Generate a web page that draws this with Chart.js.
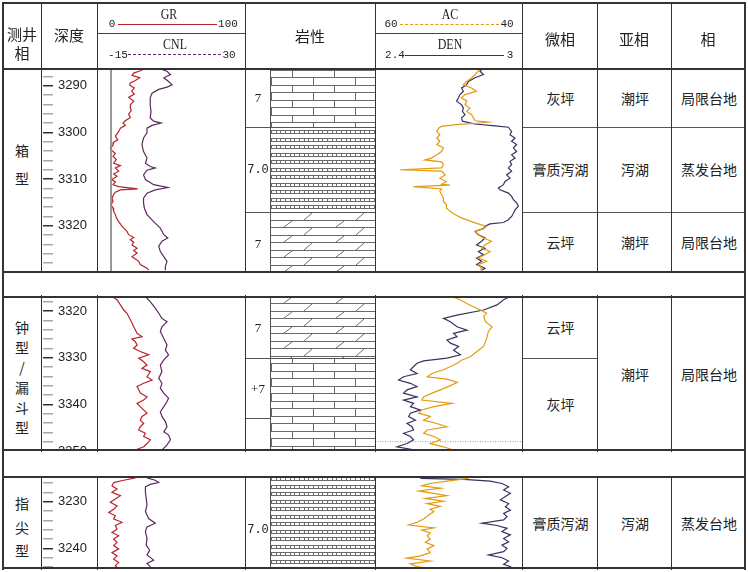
<!DOCTYPE html>
<html>
<head>
<meta charset="utf-8">
<title>测井相</title>
<script src="https://cdn.jsdelivr.net/npm/chart.js@4.4.1/dist/chart.umd.min.js"></script>
<style>
  body { margin: 0; background: #fff; }
  #sheet { position: relative; width: 748px; height: 572px; overflow: hidden; background: #fff;
           font-family: "Noto Sans CJK SC", sans-serif; color: #222; }
  #sheet canvas { position: absolute; }
  .ln { position: absolute; background: #333; z-index: 5; }
  .tx { position: absolute; transform: translate(-50%, -50%); white-space: nowrap; line-height: 1; z-index: 6; font-size: 14px; }
  .key { position: absolute; z-index: 6; height: 0; }
</style>
</head>
<body>
<div id="sheet"></div>
<script>
// ---- depth window of each row (m) ----
const sec1Range = [3286.64, 3329.89];
const sec2Range = [3316.8, 3350.0];
const sec3Range = [3224.71, 3244.41];

// ---- curves: [depth, value] ----
// row 1 (box shape)
const s1GR = [[3286.2,29.4],[3286.8,24.4],[3287.3,18.9],[3287.8,17.5],[3288.3,23.9],[3288.9,20.3],[3289.4,16.1],[3289.9,15.6],[3290.5,19.4],[3291.2,17.2],
  [3291.8,19.4],[3292.5,14.7],[3293.3,18.9],[3294.1,16.1],[3294.8,16.1],[3295.3,16.9],[3296.1,14.7],[3296.8,16.1],[3297.5,11.9],[3298.0,10.0],
  [3298.5,11.9],[3299.1,7.8],[3299.8,6.4],[3300.3,5.0],[3300.8,3.6],[3301.6,5.6],[3302.1,2.2],[3302.8,1.7],[3303.3,-0.6],[3303.9,0.8],
  [3304.5,3.6],[3305.1,1.7],[3305.8,4.4],[3306.6,2.2],[3307.1,7.8],[3307.6,3.6],[3308.3,6.4],[3308.9,2.2],[3309.4,5.0],[3310.1,0.8],
  [3310.6,3.6],[3311.2,1.7],[3311.6,6.4],[3312.1,22.2],[3312.3,7.8],[3312.8,3.6],[3313.3,2.2],[3314.1,0.8],[3314.8,1.7],[3315.5,0.0],
  [3316.2,1.7],[3316.9,2.2],[3317.6,3.6],[3318.3,4.4],[3319.1,6.4],[3319.8,8.3],[3320.5,10.6],[3321.2,13.3],[3321.9,14.7],[3322.5,18.9],
  [3323.0,16.1],[3323.5,18.9],[3324.1,17.5],[3324.8,21.7],[3325.3,18.9],[3325.8,21.7],[3326.6,17.5],[3327.1,20.3],[3327.6,23.1],[3328.3,24.4],
  [3329.1,30.0],[3329.5,31.4]];
const s1CNL = [[3286.2,2.3],[3286.9,6.0],[3287.6,7.3],[3288.3,4.8],[3289.1,6.6],[3289.8,7.9],[3290.3,6.0],[3290.8,2.9],[3291.6,0.4],[3292.6,-0.3],
  [3294.1,-0.3],[3295.5,0.0],[3296.9,-0.3],[3297.6,1.0],[3298.0,3.8],[3298.5,0.4],[3299.1,-1.5],[3300.1,-1.5],[3301.2,-2.8],[3302.6,-3.4],
  [3304.1,-2.8],[3305.5,-1.5],[3306.6,-2.1],[3307.3,-0.3],[3307.6,1.6],[3308.1,-1.5],[3309.1,-2.8],[3310.1,-2.1],[3311.2,1.0],[3311.8,6.3],
  [3312.3,1.6],[3313.0,-1.5],[3314.1,-2.8],[3315.1,-2.8],[3316.2,-2.5],[3317.6,-1.5],[3319.1,1.0],[3320.5,3.5],[3321.9,4.8],[3322.6,6.3],
  [3323.3,4.1],[3324.4,2.9],[3325.5,3.5],[3326.6,4.8],[3327.6,6.0],[3328.7,5.4],[3329.5,5.4]];
const s1AC = [[3286.2,44.7],[3286.9,45.3],[3287.6,45.8],[3288.3,46.4],[3289.1,47.2],[3289.8,47.8],[3290.5,46.4],[3291.2,45.6],[3291.9,47.5],[3292.6,48.1],
  [3293.3,47.2],[3294.1,47.5],[3294.8,46.7],[3295.5,47.2],[3296.2,46.4],[3296.9,46.1],[3297.5,45.8],[3297.8,43.6],[3298.1,45.8],[3298.3,48.6],
  [3298.7,51.4],[3299.1,51.9],[3299.8,52.2],[3300.5,51.7],[3301.2,52.2],[3301.9,51.7],[3302.6,52.2],[3303.3,51.1],[3304.1,51.4],[3304.8,52.2],
  [3305.5,53.1],[3305.9,54.2],[3306.3,51.4],[3306.9,51.1],[3307.6,51.4],[3308.0,58.3],[3308.3,51.4],[3309.1,50.8],[3309.8,51.7],[3310.5,50.6],
  [3311.1,51.4],[3311.3,50.0],[3311.6,56.1],[3312.1,51.4],[3312.6,51.7],[3313.3,51.4],[3314.1,51.1],[3314.8,51.1],[3315.5,50.6],[3316.2,50.6],
  [3316.9,50.0],[3317.6,49.2],[3318.3,48.1],[3319.1,46.4],[3319.6,45.3],[3320.1,43.9],[3320.6,44.4],[3321.2,45.8],[3321.9,45.3],[3322.6,44.4],
  [3323.3,43.1],[3324.1,44.2],[3324.8,44.7],[3325.5,43.3],[3326.2,44.2],[3326.9,45.3],[3327.6,43.9],[3328.3,45.3],[3329.1,44.7],[3329.5,45.0]];
const s1DEN = [[3286.2,2.867],[3286.9,2.850],[3287.6,2.867],[3288.3,2.825],[3289.1,2.792],[3289.8,2.783],[3290.5,2.758],[3291.2,2.767],[3291.9,2.750],[3292.6,2.742],
  [3293.3,2.733],[3294.1,2.758],[3294.8,2.767],[3295.5,2.762],[3296.2,2.775],[3296.9,2.758],[3297.6,2.762],[3298.2,2.825],[3298.6,2.925],[3298.9,2.992],
  [3299.8,3.008],[3300.5,3.000],[3301.2,3.025],[3301.9,3.008],[3302.6,3.033],[3303.3,3.017],[3304.1,3.033],[3304.8,3.008],[3305.5,3.025],[3306.2,3.000],
  [3306.9,3.008],[3307.6,2.992],[3308.3,3.008],[3309.1,2.983],[3309.8,3.000],[3310.5,2.975],[3311.2,2.967],[3311.9,2.942],[3312.3,2.950],[3313.0,2.992],
  [3313.7,3.008],[3314.4,3.017],[3315.1,3.033],[3315.8,3.042],[3316.6,3.025],[3317.3,3.017],[3318.0,3.008],[3318.7,2.992],[3319.3,2.967],[3319.6,2.900],
  [3320.1,2.875],[3320.6,2.867],[3321.2,2.825],[3321.9,2.842],[3322.6,2.875],[3323.3,2.858],[3324.1,2.833],[3324.8,2.875],[3325.5,2.842],[3326.2,2.867],
  [3326.9,2.833],[3327.6,2.858],[3328.3,2.833],[3329.1,2.875],[3329.5,2.858]];

// row 2 (bell / funnel shape)
const s2GR = [[3316.9,0.8],[3317.6,5.0],[3318.7,7.8],[3319.8,10.6],[3320.5,13.3],[3321.2,14.7],[3321.9,16.1],[3322.6,17.5],[3323.4,18.9],[3324.1,20.3],
  [3324.8,21.7],[3325.5,25.8],[3326.0,17.5],[3326.6,20.3],[3327.3,21.7],[3328.0,18.9],[3328.7,24.4],[3329.4,31.4],[3330.1,23.1],[3330.9,27.2],
  [3331.6,30.0],[3332.3,25.8],[3333.0,32.8],[3334.1,30.0],[3334.8,34.2],[3335.5,27.2],[3336.2,21.7],[3336.9,23.1],[3337.6,24.4],[3338.4,30.0],
  [3339.1,27.2],[3339.8,21.7],[3340.5,24.4],[3341.2,27.2],[3341.9,30.0],[3342.6,25.8],[3343.4,24.4],[3344.1,27.2],[3344.8,24.4],[3345.5,23.1],
  [3346.2,28.6],[3346.9,27.2],[3347.6,32.8],[3348.4,30.0],[3349.1,27.2],[3349.8,20.3]];
const s2CNL = [[3316.9,-2.1],[3318.0,-0.3],[3319.4,1.6],[3320.5,2.9],[3321.6,4.1],[3322.3,6.0],[3323.4,4.1],[3324.4,3.5],[3325.9,4.8],[3327.3,6.0],
  [3328.4,5.4],[3329.4,6.6],[3330.5,4.8],[3331.6,3.5],[3333.0,4.1],[3334.4,2.9],[3335.5,4.1],[3336.6,3.5],[3337.6,4.8],[3338.7,6.6],
  [3339.4,6.0],[3340.5,4.8],[3341.6,3.5],[3342.6,4.1],[3343.7,5.4],[3344.8,6.0],[3345.9,4.8],[3346.6,6.6],[3347.6,7.3],[3348.7,6.0],[3349.8,4.1]];
const s2AC = [[3316.9,49.7],[3317.6,48.3],[3318.4,47.2],[3319.1,46.1],[3319.8,44.9],[3320.5,43.9],[3321.2,44.4],[3322.3,44.1],[3323.4,43.0],[3324.4,43.6],
  [3325.5,43.8],[3326.6,44.1],[3327.6,44.4],[3328.7,45.5],[3329.8,46.6],[3330.5,48.0],[3331.2,48.8],[3331.9,49.9],[3332.6,51.1],[3333.4,53.0],
  [3334.1,53.8],[3334.6,50.5],[3335.3,48.8],[3336.0,49.9],[3336.9,51.6],[3337.6,53.0],[3338.4,54.4],[3339.1,54.7],[3339.8,49.7],[3340.5,52.7],
  [3341.2,54.7],[3341.9,55.2],[3342.6,53.3],[3343.4,54.4],[3344.1,52.2],[3344.8,50.5],[3345.5,53.8],[3346.2,54.4],[3346.9,52.7],[3347.6,51.6],
  [3348.4,53.3],[3349.1,51.1],[3349.8,49.4]];
const s2DEN = [[3316.9,3.002],[3317.6,2.968],[3318.7,2.935],[3319.8,2.868],[3320.9,2.735],[3321.6,2.668],[3322.3,2.702],[3323.4,2.735],[3324.1,2.785],[3324.8,2.718],
  [3325.5,2.735],[3326.2,2.685],[3326.9,2.702],[3327.6,2.743],[3328.4,2.718],[3329.4,2.752],[3330.1,2.685],[3330.7,2.568],[3331.2,2.535],[3331.9,2.518],
  [3332.6,2.502],[3333.4,2.535],[3334.1,2.468],[3334.8,2.443],[3335.5,2.502],[3336.2,2.535],[3336.9,2.485],[3337.6,2.468],[3338.4,2.535],[3339.1,2.468],
  [3339.8,2.518],[3340.5,2.502],[3341.2,2.552],[3341.9,2.502],[3342.6,2.493],[3343.4,2.527],[3344.1,2.485],[3344.8,2.510],[3345.5,2.518],[3346.2,2.468],
  [3346.9,2.502],[3347.6,2.518],[3348.4,2.485],[3349.1,2.435],[3349.8,2.527]];

// row 3 (finger shape)
const s3GR = [[3224.9,20.3],[3225.4,10.6],[3225.9,2.2],[3226.6,0.8],[3227.3,5.0],[3228.0,0.8],[3228.7,7.8],[3229.4,3.6],[3230.1,-0.6],[3230.9,5.0],
  [3231.6,2.2],[3232.3,-1.9],[3233.0,3.6],[3233.7,2.2],[3234.4,9.2],[3235.1,3.6],[3235.9,5.0],[3236.6,0.8],[3237.3,6.4],[3238.0,2.2],
  [3238.7,5.0],[3239.4,2.2],[3240.1,6.4],[3240.9,0.8],[3241.6,5.0],[3242.3,2.2],[3243.0,6.4],[3243.7,3.6],[3244.4,6.4]];
const s3CNL = [[3224.9,-1.5],[3225.4,1.6],[3225.9,2.9],[3226.3,-0.3],[3226.8,-2.1],[3227.9,-2.1],[3229.3,-1.8],[3230.7,-1.5],[3232.1,-2.1],[3233.6,-0.9],
  [3234.6,1.6],[3235.4,-1.5],[3236.4,-2.1],[3237.9,-1.5],[3239.3,-1.8],[3240.4,-0.5],[3241.4,-1.5],[3242.5,1.0],[3243.2,-1.5],[3243.9,-0.3],[3244.4,-0.5]];
const s3AC = [[3225.0,46.9],[3225.6,50.5],[3226.1,53.3],[3226.6,54.7],[3227.1,51.6],[3227.7,55.2],[3228.2,52.7],[3228.7,50.5],[3229.3,54.1],[3229.9,51.1],
  [3230.4,53.8],[3231.0,51.6],[3231.6,53.3],[3232.1,52.7],[3232.9,53.6],[3233.7,54.4],[3234.4,55.5],[3235.0,56.9],[3235.6,52.7],[3236.1,54.7],
  [3236.7,53.3],[3237.3,53.8],[3238.0,53.3],[3238.7,54.1],[3239.4,52.7],[3240.1,53.8],[3240.9,53.3],[3241.6,54.9],[3242.1,57.2],[3242.7,53.3],
  [3243.3,56.6],[3243.9,55.5],[3244.4,53.3]];
const s3DEN = [[3225.0,2.552],[3225.2,2.768],[3225.6,2.902],[3226.1,2.960],[3226.8,2.993],[3227.5,2.968],[3228.2,3.002],[3228.9,2.977],[3229.6,2.952],[3230.4,2.993],
  [3231.1,2.977],[3231.8,3.002],[3232.5,2.968],[3233.2,2.985],[3233.9,2.968],[3234.6,2.860],[3235.1,2.935],[3235.7,2.985],[3236.4,2.960],[3237.1,3.002],
  [3237.9,2.968],[3238.6,2.993],[3239.3,2.960],[3240.0,2.985],[3240.7,2.968],[3241.4,2.893],[3242.0,2.960],[3242.7,2.993],[3243.4,2.968],[3243.9,3.002],[3244.4,2.985]];

// ---- lithology ----
const sec1LithTop = [3286.64, 3298.8, 3317.0];
const sec1LithBase = [3298.8, 3317.0, 3329.89];
const sec1Rock = ['limestone', 'gypsum', 'dolomite'];
const sec1Note = ['7', '7.0', '7'];
const sec1NoteDepth = [3292.4, 3308.0, 3323.7];
const sec1NoteBounds = [3298.8, 3317.0];

const sec2LithTop = [3316.8, 3330.0];
const sec2LithBase = [3330.0, 3350.0];
const sec2Rock = ['dolomite', 'limestone'];
const sec2Note = ['7', '+7'];
const sec2NoteDepth = [3323.4, 3336.5];
const sec2NoteBounds = [3330.0, 3343.0];

const sec3LithTop = [3224.71];
const sec3LithBase = [3244.41];
const sec3Rock = ['gypsum'];
const sec3Note = ['7.0'];
const sec3NoteDepth = [3236.1];
const sec3NoteBounds = [];

// ---- facies ----
const sec1Bounds = [3298.8, 3317.0];
const sec1Micro = ['灰坪', '膏质泻湖', '云坪'];
const sec1Sub = ['潮坪', '泻湖', '潮坪'];
const sec1Facies = ['局限台地', '蒸发台地', '局限台地'];
const sec2MicroBounds = [3330.0];
const sec2Micro = ['云坪', '灰坪'];
const sec2Sub = ['潮坪'];
const sec2Facies = ['局限台地'];
const sec3Micro = ['膏质泻湖'];
const sec3Sub = ['泻湖'];
const sec3Facies = ['蒸发台地'];

// marker line inside the AC/DEN track of row 2
const sec2Marker = 3348.0;

// ---------------------------------------------------------------
const sheet = document.getElementById('sheet');
const COL = { gr: '#b8232b', cnl: '#5b2a5e', ac: '#e39a12', den: '#34345e' };

function rule(x, y, w, h, color) {
  const d = document.createElement('div');
  d.className = 'ln';
  d.style.left = x + 'px'; d.style.top = y + 'px';
  d.style.width = w + 'px'; d.style.height = h + 'px';
  if (color) d.style.background = color;
  sheet.appendChild(d);
}
function label(str, x, y, css) {
  const d = document.createElement('div');
  d.className = 'tx';
  d.textContent = str;
  d.style.left = x + 'px'; d.style.top = y + 'px';
  if (css) d.style.cssText += css;
  sheet.appendChild(d);
}
function key(x1, x2, y, border) {
  const d = document.createElement('div');
  d.className = 'key';
  d.style.left = x1 + 'px'; d.style.top = y + 'px';
  d.style.width = (x2 - x1) + 'px';
  d.style.borderTop = border;
  sheet.appendChild(d);
}
function canvasAt(x, y, w, h) {
  const c = document.createElement('canvas');
  c.width = w; c.height = h;
  c.style.left = x + 'px'; c.style.top = y + 'px';
  c.style.width = w + 'px'; c.style.height = h + 'px';
  sheet.appendChild(c);
  return c;
}

// lithology fill patterns
function tile(w, h, draw) {
  const c = document.createElement('canvas');
  c.width = w; c.height = h;
  const g = c.getContext('2d');
  g.fillStyle = '#fff'; g.fillRect(0, 0, w, h);
  g.fillStyle = '#6a6a6a'; g.strokeStyle = '#6a6a6a'; g.lineWidth = 1;
  draw(g);
  return g.createPattern(c, 'repeat');
}
const patterns = {
  limestone: tile(42, 15, g => {
    g.fillRect(0, 0, 42, 1); g.fillRect(0, 7, 42, 1);
    g.fillRect(21, 1, 1, 6); g.fillRect(0, 8, 1, 7);
  }),
  gypsum: tile(14, 15, g => {
    [0, 8].forEach(y => {
      g.fillRect(0, y, 14, 1); g.fillRect(0, y + 3, 14, 1);
      [0, 5, 9].forEach(x => g.fillRect(x, y, 1, 4));
    });
  }),
  dolomite: tile(52, 15, g => {
    g.fillRect(0, 0, 52, 1); g.fillRect(0, 7, 52, 1);
    g.beginPath();
    g.moveTo(13, 7); g.lineTo(21, 1);
    g.moveTo(33, 15); g.lineTo(41, 8);
    g.stroke();
  })
};

const baseOpts = (range, scales) => ({
  responsive: false, animation: false, events: [],
  layout: { padding: 0 },
  plugins: { legend: { display: false }, tooltip: { enabled: false } },
  scales: Object.assign({
    x: { display: false },
    y: { type: 'linear', display: false, reverse: true, min: range[0], max: range[1] }
  }, scales)
});
const pts = arr => arr.map(p => ({ x: p[1], y: p[0] }));
function curve(arr, axis, color, extra) {
  return Object.assign({ data: pts(arr), xAxisID: axis, yAxisID: 'y', showLine: true,
    borderColor: color, borderWidth: 1.2, pointRadius: 0, fill: false }, extra || {});
}

const rows = [
  { top: 70, h: 202, range: sec1Range, gr: s1GR, cnl: s1CNL, ac: s1AC, den: s1DEN, zero: true,
    lithTop: sec1LithTop, lithBase: sec1LithBase, rock: sec1Rock,
    note: sec1Note, noteDepth: sec1NoteDepth, noteBounds: sec1NoteBounds,
    fb: [sec1Bounds, sec1Bounds, sec1Bounds], ft: [sec1Micro, sec1Sub, sec1Facies],
    shape: ['箱', '型'], shapeY: [150, 178] },
  { top: 296, h: 155, range: sec2Range, gr: s2GR, cnl: s2CNL, ac: s2AC, den: s2DEN, marker: sec2Marker,
    lithTop: sec2LithTop, lithBase: sec2LithBase, rock: sec2Rock,
    note: sec2Note, noteDepth: sec2NoteDepth, noteBounds: sec2NoteBounds,
    fb: [sec2MicroBounds, [], []], ft: [sec2Micro, sec2Sub, sec2Facies],
    shape: ['钟', '型', '/', '漏', '斗', '型'], shapeY: [327, 347, 367, 387, 407, 427] },
  { top: 477, h: 92, range: sec3Range, gr: s3GR, cnl: s3CNL, ac: s3AC, den: s3DEN,
    lithTop: sec3LithTop, lithBase: sec3LithBase, rock: sec3Rock,
    note: sec3Note, noteDepth: sec3NoteDepth, noteBounds: sec3NoteBounds,
    fb: [[], [], []], ft: [sec3Micro, sec3Sub, sec3Facies],
    shape: ['指', '尖', '型'], shapeY: [503, 527, 550] }
];

const faciesCols = [[522, 597], [597, 671], [671, 745]];
const INNER = '#555';

rows.forEach(r => {
  // depth scale: ticks at the left edge of the column, labels to their right
  new Chart(canvasAt(43, r.top, 54, r.h), {
    type: 'scatter',
    data: { datasets: [] },
    options: baseOpts(r.range, {
      y: {
        type: 'linear', reverse: true, min: r.range[0], max: r.range[1], position: 'left',
        border: { display: false },
        grid: { drawOnChartArea: false, tickLength: 10, lineWidth: 1.5,
                color: c => (c.tick && Math.round(c.tick.value) % 10 === 0) ? '#333' : '#a8a8a8' },
        ticks: { stepSize: 2, autoSkip: false, includeBounds: false, mirror: true, padding: 5, color: '#222',
                 font: { family: '"Liberation Sans", sans-serif', size: 13 },
                 callback: v => Math.round(v) % 10 === 0 ? String(Math.round(v)) : '' },
        afterFit: s => { s.width = 10; s.paddingTop = 0; s.paddingBottom = 0; }
      }
    })
  });

  // GR / CNL track
  const grSets = [curve(r.cnl, 'xCNL', COL.cnl), curve(r.gr, 'xGR', COL.gr)];
  if (r.zero) grSets.unshift(curve([[r.range[0], 0], [r.range[1], 0]], 'xGR', '#8c8c8c', { borderWidth: 1 }));
  new Chart(canvasAt(97, r.top, 148, r.h), {
    type: 'scatter',
    data: { datasets: grSets },
    options: baseOpts(r.range, {
      xGR: { type: 'linear', display: false, min: -11.7, max: 111.7 },
      xCNL: { type: 'linear', display: false, min: -20.25, max: 35.25 }
    })
  });

  // lithology column
  const lith = new Chart(canvasAt(271, r.top, 104, r.h), {
    type: 'bar',
    data: {
      labels: [''],
      datasets: r.lithTop.map((t, i) => ({
        data: [[t, r.lithBase[i]]], backgroundColor: patterns[r.rock[i]], borderWidth: 0,
        barPercentage: 1, categoryPercentage: 1, grouped: false
      }))
    },
    options: baseOpts(r.range, {})
  });
  const yOf = d => r.top + lith.scales.y.getPixelForValue(d);

  // AC / DEN track
  const acSets = [curve(r.ac, 'xAC', COL.ac), curve(r.den, 'xDEN', COL.den)];
  if (r.marker) acSets.push(curve([[r.marker, 62.5], [r.marker, 38]], 'xAC', '#9a9a9a', { borderWidth: 1, borderDash: [1, 1.5] }));
  new Chart(canvasAt(375, r.top, 147, r.h), {
    type: 'scatter',
    data: { datasets: acSets },
    options: baseOpts(r.range, {
      xAC: { type: 'linear', display: false, reverse: true, min: 38, max: 62.5 },
      xDEN: { type: 'linear', display: false, min: 2.325, max: 3.06 }
    })
  });

  // lithology boundaries and notes
  r.lithTop.slice(1).forEach(d => rule(271, Math.round(yOf(d)) - 0.5, 104, 1, INNER));
  r.noteBounds.forEach(d => rule(245, Math.round(yOf(d)) - 0.5, 26, 1, INNER));
  r.note.forEach((t, i) => {
    const mono = t.indexOf('.') >= 0;
    label(t, 258, yOf(r.noteDepth[i]),
      mono ? 'font-family:"Liberation Mono",monospace;font-size:12px;'
           : 'font-family:"Liberation Serif",serif;font-size:13px;');
  });

  // facies columns
  faciesCols.forEach((cx, j) => {
    const b = r.fb[j];
    b.forEach(d => rule(cx[0], Math.round(yOf(d)) - 0.5, cx[1] - cx[0], 1, INNER));
    const edges = [r.range[0]].concat(b, [r.range[1]]);
    r.ft[j].forEach((t, i) => {
      const y0 = Math.max(yOf(edges[i]), r.top), y1 = Math.min(yOf(edges[i + 1]), r.top + r.h);
      label(t, (cx[0] + cx[1]) / 2 + 1, (y0 + y1) / 2);
    });
  });

  // log-facies name
  r.shape.forEach((ch, i) => label(ch, 22, r.shapeY[i]));

  // inner lithology divider and column lines for this row
  rule(270, r.top, 1, r.h, INNER);
  [41, 97, 245, 375, 522, 597, 671].forEach(x => rule(x - 0.5, r.top - 1, 1.5, r.h + 2));
});

// ---- frame ----
rule(2, 2, 744, 2);
rule(2, 2, 2, 568);
rule(744, 2, 2, 568);
rule(2, 567, 744, 2);
[68, 271, 296, 449, 476].forEach(y => rule(2, y, 744, 2));
[41, 97, 245, 375, 522, 597, 671].forEach(x => rule(x - 0.5, 3, 1.5, 66));
rule(97, 32.5, 148, 1, '#444');
rule(375, 32.5, 147, 1, '#444');

// ---- header ----
label('测井', 22, 33, 'font-size:15px;');
label('相', 22, 52, 'font-size:15px;');
label('深度', 69, 34, 'font-size:15px;');
label('岩性', 310, 35, 'font-size:15px;');
label('微相', 560, 38, 'font-size:15px;');
label('亚相', 634, 38, 'font-size:15px;');
label('相', 708, 38, 'font-size:15px;');

const serif = 'font-family:"Liberation Serif",serif;font-size:14px;transform:translate(-50%,-50%) scaleX(0.85);';
const mono = 'font-family:"Liberation Mono",monospace;font-size:11px;';
label('GR', 169, 15, serif);
label('0', 112, 24, mono);
key(118, 217, 23.5, '1.5px solid ' + COL.gr);
label('100', 228, 24, mono);
label('CNL', 175, 45, serif);
label('-15', 118, 55, mono);
key(128, 221, 53.5, '1.5px dashed ' + COL.cnl);
label('30', 229, 55, mono);

label('AC', 450, 15, serif);
label('60', 391, 24, mono);
key(400, 499, 23.5, '1.5px dashed ' + COL.ac);
label('40', 507, 24, mono);
label('DEN', 450, 45, serif);
label('2.4', 395, 55, mono);
key(405, 504, 54.5, '1.5px solid ' + COL.den);
label('3', 510, 55, mono);
</script>
</body>
</html>
